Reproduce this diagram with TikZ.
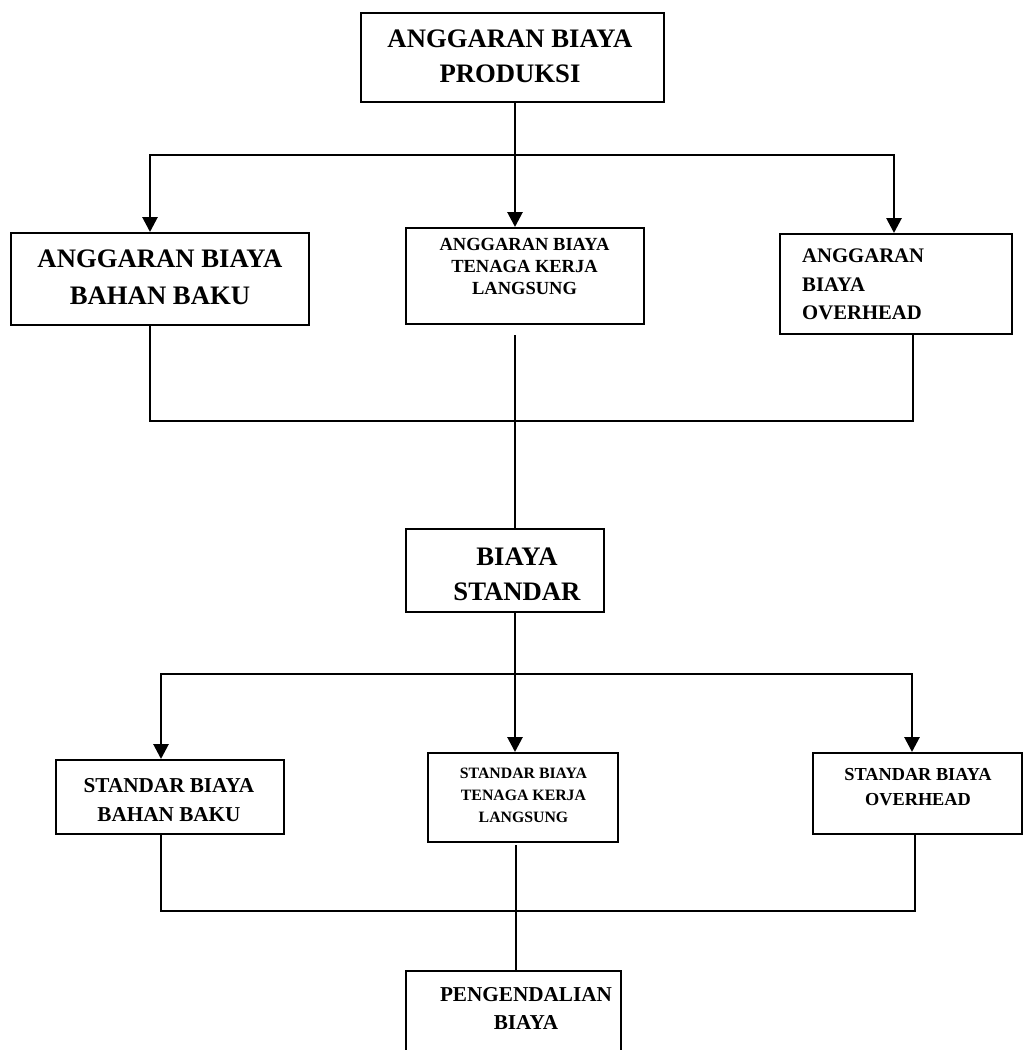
\documentclass[tikz,border=0pt]{standalone}
\usepackage{fontspec}
\setmainfont{Liberation Serif}
\usetikzlibrary{arrows.meta}
\tikzset{
  box/.style={draw=black, line width=2pt, inner sep=0pt},
  lbl/.style={inner sep=0pt, anchor=north, align=center, font=\bfseries},
  arr/.style={draw=black, line width=2.8pt, -{Triangle[width=15pt,length=15pt]}},
  thickln/.style={draw=black, line width=2.6pt},
  thinln/.style={draw=black, line width=1.9pt},
  fine/.style={draw=black, line width=1.4pt}
}
\newcommand{\fs}[2]{\fontsize{#1}{#2}\selectfont}
\begin{document}
\begin{tikzpicture}[x=1pt,y=-1pt]
\useasboundingbox (0,0) rectangle (1028,1050);
\clip (0,0) rectangle (1028,1050);
\fill[white] (0,0) rectangle (1028,1050);

% boxes
\node[box, minimum width=303pt, minimum height=89pt] (p) at (512.5,57.5) {};
\node[box, minimum width=298pt, minimum height=92pt] (aBB) at (160,279) {};
\node[box, minimum width=238pt, minimum height=96pt] (aTK) at (525,276) {};
\node[box, minimum width=232pt, minimum height=100pt] (aOH) at (896,284) {};
\node[box, minimum width=198pt, minimum height=83pt] (bs) at (505,570.5) {};
\node[box, minimum width=228pt, minimum height=74pt] (sBB) at (170,797) {};
\node[box, minimum width=190pt, minimum height=89pt] (sTK) at (523,797.5) {};
\node[box, minimum width=209pt, minimum height=81pt] (sOH) at (917.5,793.5) {};
\node[box, minimum width=215pt, minimum height=130pt] (pb) at (513.5,1036) {};

% texts
\node[lbl, font=\bfseries\fs{26.7}{35}] (tP) at (510,30) {ANGGARAN BIAYA\\PRODUKSI};
\node[lbl, font=\bfseries\fs{26.7}{37}] (taBB) at (160,250) {ANGGARAN BIAYA\\BAHAN BAKU};
\node[lbl, font=\bfseries\fs{18.5}{22}] (taTK) at (524.5,238) {ANGGARAN BIAYA\\TENAGA KERJA\\LANGSUNG};
\node[lbl, anchor=north west, align=left, font=\bfseries\fs{20.7}{28.5}] (taOH) at (802,249) {ANGGARAN\\BIAYA\\OVERHEAD};
\node[lbl, font=\bfseries\fs{26.7}{35}] (tbs) at (517,548) {BIAYA\\STANDAR};
\node[lbl, font=\bfseries\fs{21.2}{29}] (tsBB) at (169,778) {STANDAR BIAYA\\BAHAN BAKU};
\node[lbl, font=\bfseries\fs{15.8}{22}] (tsTK) at (523.5,768) {STANDAR BIAYA\\TENAGA KERJA\\LANGSUNG};
\node[lbl, font=\bfseries\fs{18.3}{25.5}] (tsOH) at (918,768) {STANDAR BIAYA\\OVERHEAD};
\node[lbl, font=\bfseries\fs{21.2}{28}] (tpb) at (526,987) {PENGENDALIAN\\BIAYA};

% junction coordinates
\coordinate (j1) at (515,155);
\coordinate (cl) at (150,155);
\coordinate (cr) at (894,155);
\coordinate (b1) at (150,421);
\coordinate (b2) at (913,421);
\coordinate (m1) at (515,335);

\coordinate (j2) at (515,674);
\coordinate (dl) at (161,674);
\coordinate (dr) at (912,674);
\coordinate (e1) at (161,911);
\coordinate (e2) at (915,911);
\coordinate (m2) at (516,845);

% top connectors
\draw[arr] (p.south -| j1) -- (j1 |- aTK.north);
\draw[arr] (cr) -- (cl) -- (cl |- aBB.north);
\draw[arr] (cl) -- (cr) -- (cr |- aOH.north);

% merge below anggaran
\draw[thinln] (b1 |- aBB.south) -- (b1) -- (b2) -- (b2 |- aOH.south);
\draw[fine] (m1) -- (m1 |- bs.north);

% standar connectors
\draw[arr] (bs.south -| j2) -- (j2 |- sTK.north);
\draw[arr] (dr) -- (dl) -- (dl |- sBB.north);
\draw[arr] (dl) -- (dr) -- (dr |- sOH.north);

% merge below standar
\draw[thinln] (e1 |- sBB.south) -- (e1) -- (e2) -- (e2 |- sOH.south);
\draw[thickln] (m2) -- (m2 |- pb.north);
\end{tikzpicture}
\end{document}
